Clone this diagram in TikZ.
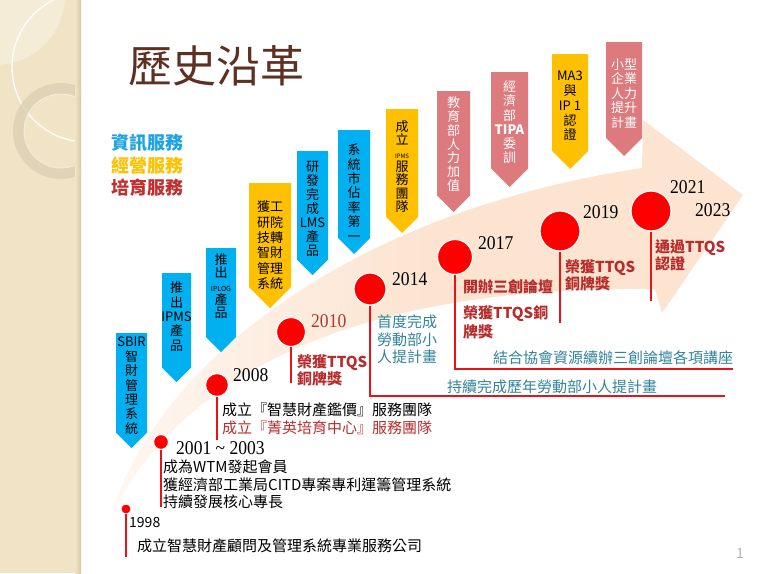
\documentclass[tikz,border=0pt]{standalone}
\usepackage{fontspec}
\setmainfont{Noto Sans CJK TC}
\newfontfamily\yearfont[FakeStretch=0.9]{Liberation Serif}
\usepackage{tikz}
\usetikzlibrary{positioning}

\definecolor{stripbeige}{RGB}{241,228,198}
\definecolor{stripshade}{RGB}{214,198,165}
\definecolor{ringtan}{RGB}{222,208,178}
\definecolor{bandpeach}{RGB}{252,228,208}
\definecolor{infoblue}{RGB}{0,176,240}
\definecolor{mgmtyellow}{RGB}{255,192,0}
\definecolor{edupink}{RGB}{220,122,126}
\definecolor{legendblue}{RGB}{28,163,224}
\definecolor{legendred}{RGB}{192,48,48}
\definecolor{redtxt}{RGB}{183,45,45}
\definecolor{tealtxt}{RGB}{49,132,155}
\definecolor{titlebrown}{RGB}{94,48,34}
\definecolor{dotred}{RGB}{255,0,0}
\definecolor{stemred}{RGB}{230,20,25}
\definecolor{yrred}{RGB}{170,58,50}

\tikzstyle{bluetag} = [fill=infoblue]
\tikzstyle{yellowtag} = [fill=mgmtyellow]
\tikzstyle{pinktag} = [fill=edupink]
\tikzstyle{tagtext} = [anchor=north, align=center, inner sep=0pt, font=\fontsize{13}{14.4}\selectfont]
\tikzstyle{yeardot} = [circle, fill=dotred, draw=white, line width=1.2pt, inner sep=0pt]
\tikzstyle{stem} = [draw=stemred, line width=2.6pt]
\tikzstyle{yr} = [anchor=west, inner sep=0pt, font=\yearfont\fontsize{19.5}{19.5}\selectfont]
\tikzstyle{evt} = [anchor=west, align=left, inner sep=0pt, font=\fontsize{15}{17.5}\selectfont]
\tikzstyle{redevt} = [evt, text=redtxt, font=\fontsize{15}{16}\selectfont\bfseries]
\tikzstyle{svclabel} = [anchor=west, inner sep=0pt, font=\fontsize{18}{18}\selectfont\bfseries]

% down-pointing tag: style, left x, right x, top y, tip y
\newcommand{\tagshape}[5]{\fill[#1] (#2,#4) -- (#3,#4) -- (#3,{#5-(#3-#2)/2}) -- ({(#2+#3)/2},#5) -- (#2,{#5-(#3-#2)/2}) -- cycle;}

\begin{document}
\begin{tikzpicture}[x=1pt, y=-1pt]
			\useasboundingbox (0,0) rectangle (765,573);
			\fill [white] (0,0) rectangle (765,573);

			% left strip
			\fill [stripbeige] (0,0) rectangle (81,573);
			\begin{scope}
				\clip (0,0) rectangle (81,573);
				\fill [white, opacity=0.3] (-5,-5) circle [radius=70pt];
				\draw [white, opacity=0.9, line width=1.4pt] (87,67) circle [radius=75pt];
				\draw [ringtan, opacity=0.8, line width=11pt] (61,131) circle [radius=42.5pt];
				\draw [white, opacity=0.5, line width=0.8pt] (61,131) circle [radius=37pt];
			\end{scope}
			\shade [left color=stripbeige, right color=stripshade] (75,0) rectangle (81,573);

			% curved arrow
			\shade [left color=bandpeach!30!white, right color=bandpeach, middle color=bandpeach]
				(113,512) .. controls (150,380) and (330,215) .. (642,168) -- (643,120) -- (743,195)
				-- (662,313) -- (655,289) .. controls (330,285) and (175,390) .. (113,512) -- cycle;

			\node [anchor=west, inner sep=0pt, text=titlebrown, font=\fontsize{44}{44}\selectfont] (title) at (128,66) {歷史沿革};

			\node [svclabel, text=legendblue] (info) at (111,143) {資訊服務};
			\node [svclabel, text=mgmtyellow, below=4.5pt of info.south west, anchor=north west] (mgmt) {經營服務};
			\node [svclabel, text=legendred, below=4.5pt of mgmt.south west, anchor=north west] (edu) {培育服務};

			% tags
			\tagshape{bluetag}{116}{147}{333}{448}
			\tagshape{bluetag}{162}{191}{273}{382}
			\tagshape{bluetag}{206}{236}{248}{352}
			\tagshape{yellowtag}{249}{291}{183}{308}
			\tagshape{bluetag}{297}{328}{151}{275}
			\tagshape{bluetag}{338}{370}{130}{254}
			\tagshape{yellowtag}{386}{418}{109}{233}
			\tagshape{pinktag}{437}{470}{91}{212}
			\tagshape{pinktag}{491}{528}{72}{187}
			\tagshape{yellowtag}{552}{588}{54}{169}
			\tagshape{pinktag}{606}{642}{42}{156}

			\node [tagtext] (t1) at (131.5,337) {SBIR\\智\\財\\管\\理\\系\\統};
			\node [tagtext] (t2) at (176.5,281.5) {推\\出\\IPMS\\產\\品};
			\node [tagtext, font=\fontsize{13}{13.2}\selectfont] (t3) at (221,253.5) {推\\出\\{\fontsize{7}{7}\selectfont IPLOG}\\產\\品};
			\node [tagtext, font=\fontsize{13}{15.4}\selectfont] (t4) at (270,200.5) {獲工\\研院\\技轉\\智財\\管理\\系統};
			\node [tagtext, font=\fontsize{13}{14}\selectfont] (t5) at (312.5,161.5) {研\\發\\完\\成\\LMS\\產\\品};
			\node [tagtext] (t6) at (354,143.5) {系\\統\\市\\佔\\率\\第\\一};
			\node [tagtext, font=\fontsize{13}{13.3}\selectfont] (t7) at (402,120.5) {成\\立\\{\fontsize{6}{6}\selectfont IPMS}\\服\\務\\團\\隊};
			\node [tagtext, text=white, font=\fontsize{13}{13.8}\selectfont] (t8) at (453.5,96.5) {教\\育\\部\\人\\力\\加\\值};
			\node [tagtext, text=white, font=\fontsize{13}{14.2}\selectfont] (t9) at (509.5,80.5) {經\\濟\\部\\\textbf{TIPA}\\委\\訓};
			\node [tagtext, font=\fontsize{13}{14.8}\selectfont] (t10) at (570,71) {MA3\\與\\IP 1\\認\\證};
			\node [tagtext, text=white] (t11) at (624,58.5) {小型\\企業\\人力\\提升\\計畫};

			% milestones
			\node [yeardot, minimum size=10pt, line width=0.8pt] (c1998) at (126,509) {};
			\node [yeardot, minimum size=15pt] (c2001) at (161,442) {};
			\node [yeardot, minimum size=23pt] (c2008) at (217,385) {};
			\node [yeardot, minimum size=29pt] (c2010) at (291,332) {};
			\node [yeardot, minimum size=32pt] (c2014) at (370,289) {};
			\node [yeardot, minimum size=35pt] (c2017) at (455,257) {};
			\node [yeardot, minimum size=40pt] (c2019) at (560,231) {};
			\node [yeardot, minimum size=40pt] (c2021) at (651,211) {};

			\coordinate (e1998) at (126,557);
			\coordinate (e2001) at (161,507);
			\coordinate (e2008) at (217,440);
			\coordinate (e2010) at (291,383);
			\coordinate (e2014) at (725,396);
			\coordinate (e2017) at (733,369);
			\coordinate (e2019) at (560,323);
			\coordinate (e2021) at (651,301);

			\path [stem, line width=2.2pt] (c1998) -- (e1998);
			\path [stem] (c2001) -- (e2001);
			\path [stem] (c2008) -- (e2008);
			\path [stem] (c2010) -- (e2010);
			\path [stem] (c2014) |- (e2014);
			\path [stem] (c2017) |- (e2017);
			\path [stem] (c2019) -- (e2019);
			\path [stem] (c2021) -- (e2021);

			% years
			\node [anchor=west, inner sep=0pt, font=\fontsize{14}{14}\selectfont] (y1998) at (129,523) {1998};
			\node [yr] (y2001) at (176,448) {2001 \textasciitilde{} 2003};
			\node [yr] (y2008) at (233,375) {2008};
			\node [yr, text=yrred] (y2010) at (311,321) {2010};
			\node [yr] (y2014) at (392,279) {2014};
			\node [yr] (y2017) at (478,243) {2017};
			\node [yr] (y2019) at (583,212) {2019};
			\node [yr] (y2021) at (670,187) {2021};
			\node [yr] (y2023) at (695,210) {2023};

			% events
			\node [evt] (ev1998) at (137,546) {成立智慧財產顧問及管理系統專業服務公司};
			\node [evt] (ev2001) at (163,484.5) {成為WTM發起會員\\獲經濟部工業局CITD專案專利運籌管理系統\\持續發展核心專長};
			\node [evt] (ev2008) at (222,410) {成立『智慧財產鑑價』服務團隊};
			\node [evt, text=redtxt] (ev2008b) at (222,428) {成立『菁英培育中心』服務團隊};
			\node [redevt] (ev2010) at (297,370.5) {榮獲TTQS\\銅牌獎};
			\node [evt, text=tealtxt] (ev2014) at (377,339.5) {首度完成\\勞動部小\\人提計畫};
			\node [evt, text=tealtxt] (ev2014b) at (447,387) {持續完成歷年勞動部小人提計畫};
			\node [redevt] (ev2017) at (463,287) {開辦三創論壇};
			\node [redevt, font=\fontsize{15}{19}\selectfont\bfseries] (ev2017b) at (463,322.5) {榮獲TTQS銅\\牌獎};
			\node [evt, text=tealtxt] (ev2017c) at (493,358) {結合協會資源續辦三創論壇各項講座};
			\node [redevt] (ev2019) at (565,275) {榮獲TTQS\\銅牌獎};
			\node [redevt, font=\fontsize{15}{17}\selectfont\bfseries] (ev2021) at (655,255.5) {通過TTQS\\認證};

			\node [text=black!30, inner sep=0pt, font=\fontsize{14}{14}\selectfont] (pagenum) at (740,553) {1};
		\end{tikzpicture}
\end{document}
